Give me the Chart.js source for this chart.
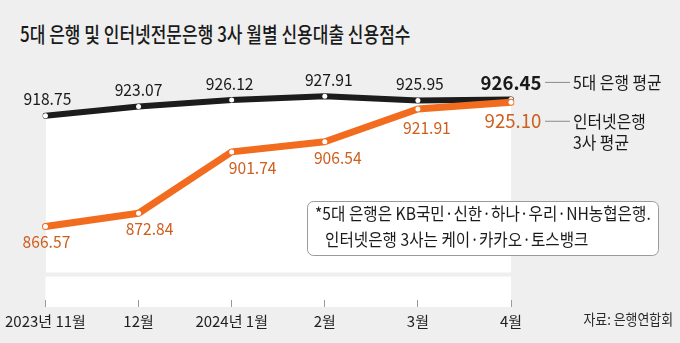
<!DOCTYPE html>
<html><head><meta charset="utf-8">
<script src="https://cdn.jsdelivr.net/npm/chart.js@4.4.1/dist/chart.umd.min.js"></script>
<style>
html,body{margin:0;padding:0;background:#efefef;}
#wrap{position:relative;width:680px;height:343px;overflow:hidden;background:#efefef;}
#title{position:absolute;left:20px;top:18px;font:500 21px "Noto Sans CJK KR",sans-serif;color:#1a1a1a;transform:scaleX(0.81);transform-origin:0 0;white-space:nowrap;line-height:30px;}
canvas{position:absolute;left:0;top:0;}
</style></head><body>
<div id="wrap"><div id="title">5대 은행 및 인터넷전문은행 3사 월별 신용대출 신용점수</div><canvas id="c" width="680" height="343"></canvas></div>
<script>
const months = ['2023년 11월', '12월', '2024년 1월', '2월', '3월', '4월'];
const bank5 = [918.75, 923.07, 926.12, 927.91, 925.95, 926.45];
const internet3 = [866.57, 872.84, 901.74, 906.54, 921.91, 925.10];
const bank5Name = ['5대 은행 평균'];
const internet3Name = ['인터넷은행', '3사 평균'];
const noteLines = ['*5대 은행은 KB국민·신한·하나·우리·NH농협은행.', '인터넷은행 3사는 케이·카카오·토스뱅크'];
const sourceText = '자료: 은행연합회';

const FONT = '"Noto Sans CJK KR", "Noto Sans", sans-serif';
const BLACK = '#1c1c1c', ORANGE = '#f26c1f', ORANGE_TXT = '#cf5f1e';

function txt(ctx, s, x, y, size, weight, color, align, sx) {
  ctx.save();
  ctx.font = weight + ' ' + size + 'px ' + FONT;
  ctx.fillStyle = color;
  ctx.textBaseline = 'middle';
  ctx.textAlign = 'left';
  const w = ctx.measureText(s).width * sx;
  const left = align === 'center' ? x - w / 2 : align === 'right' ? x - w : x;
  ctx.translate(left, y);
  ctx.scale(sx, 1);
  ctx.fillText(s, 0, 0);
  ctx.restore();
}

const decor = {
  id: 'decor',
  beforeDraw(chart) {
    const {ctx, chartArea, scales} = chart;
    const y = scales.y;
    ctx.save();
    ctx.fillStyle = '#ffffff';
    const top = y.getPixelForValue(843);
    ctx.fillRect(chartArea.left, top, chartArea.right - chartArea.left, chartArea.bottom + 7 - top);
    ctx.restore();
  },
  afterDatasetsDraw(chart) {
    const {ctx} = chart;
    const mO = chart.getDatasetMeta(0).data;
    const mB = chart.getDatasetMeta(1).data;
    const n = months.length;
    const bdx = [2, 0, -2, 4, 2, 0];
    const odx = [1, 11, 21, 13, 9, 2];
    const ody = [15, 15, 16, 16, 19, 19];
    for (let i = 0; i < n; i++) {
      const last = i === n - 1;
      const pb = mB[i], po = mO[i];
      txt(ctx, bank5[i].toFixed(2), pb.x + bdx[i], pb.y - 17, last ? 19 : 17, last ? 'bold' : 'normal', '#1a1a1a', 'center', last ? 0.98 : 0.92);
      txt(ctx, internet3[i].toFixed(2), po.x + odx[i], po.y + ody[i], last ? 19 : 17, 'normal', ORANGE_TXT, 'center', last ? 0.98 : 0.92);
    }
    const lb = mB[n - 1], lo = mO[n - 1];
    const yb = lb.y - 17, yo = lo.y + 19;
    ctx.save();
    ctx.strokeStyle = '#8a8a8a';
    ctx.lineWidth = 1;
    ctx.beginPath();
    ctx.moveTo(lb.x + 34, yb); ctx.lineTo(lb.x + 59, yb);
    ctx.moveTo(lo.x + 34, yo); ctx.lineTo(lo.x + 59, yo);
    ctx.stroke();
    ctx.restore();
    txt(ctx, bank5Name[0], lb.x + 62, yb, 17, 'normal', '#1a1a1a', 'left', 0.93);
    txt(ctx, internet3Name[0], lo.x + 62, yo, 17, 'normal', '#1a1a1a', 'left', 0.93);
    txt(ctx, internet3Name[1], lo.x + 62, yo + 21, 17, 'normal', '#1a1a1a', 'left', 0.93);
    ctx.save();
    ctx.fillStyle = '#ffffff';
    ctx.strokeStyle = '#9a9a9a';
    ctx.lineWidth = 1;
    ctx.beginPath();
    ctx.roundRect(307.5, 201.5, 351, 54, 6);
    ctx.fill();
    ctx.stroke();
    ctx.restore();
    txt(ctx, noteLines[0], 315, 214, 17, 'normal', '#1a1a1a', 'left', 0.92);
    txt(ctx, noteLines[1], 325, 240, 17, 'normal', '#1a1a1a', 'left', 0.92);
    txt(ctx, sourceText, 673, 319, 15, 'normal', '#2a2a2a', 'right', 0.86);
  }
};

new Chart(document.getElementById('c'), {
  type: 'line',
  data: {
    labels: months,
    datasets: [
      {
        label: internet3Name.join(' '),
        data: internet3,
        borderColor: ORANGE,
        borderWidth: 7,
        borderCapStyle: 'round',
        borderJoinStyle: 'round',
        tension: 0,
        fill: false,
        pointRadius: 2.5,
        pointBackgroundColor: '#ffffff',
        pointBorderWidth: 0,
        pointHoverRadius: 2.5
      },
      {
        label: bank5Name[0],
        data: bank5,
        borderColor: BLACK,
        borderWidth: 6,
        borderCapStyle: 'round',
        borderJoinStyle: 'round',
        tension: 0,
        fill: {value: 845},
        backgroundColor: '#ffffff',
        pointRadius: 2.5,
        pointBackgroundColor: '#ffffff',
        pointBorderWidth: 0,
        pointHoverRadius: 2.5
      }
    ]
  },
  options: {
    responsive: false,
    animation: false,
    events: [],
    layout: {padding: {left: 43, right: 169, top: 60, bottom: 0}},
    plugins: {legend: {display: false}, tooltip: {enabled: false}, title: {display: false}},
    scales: {
      x: {
        type: 'category',
        offset: false,
        afterFit(s) { s.height = 43; },
        border: {display: false},
        grid: {display: true, drawOnChartArea: false, drawTicks: true, tickLength: 7, color: '#9a9a9a', lineWidth: 1},
        ticks: {color: '#1f1f1f', font: {family: FONT, size: 15}, padding: 5, maxRotation: 0, autoSkip: false}
      },
      y: {display: false, min: 832, max: 945}
    }
  },
  plugins: [decor]
});
</script>
</body></html>
